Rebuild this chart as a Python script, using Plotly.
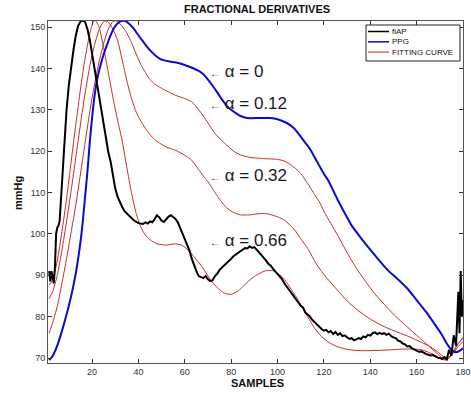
import plotly.graph_objects as go

# ---------------- data ----------------
fiap_x = [1.5, 2, 2.5, 3, 3.5, 4, 4.5, 5, 5.5, 6, 7, 8, 9, 10, 11, 12, 13, 14, 15, 16, 17, 18, 19, 20,
          21, 22, 23, 24, 25, 26, 27, 28, 29, 30, 31, 32, 33, 34, 36, 38, 40, 42, 43, 44, 45, 46, 47, 48,
          49, 50, 51, 52, 53, 54, 55, 56, 57, 58, 59, 60, 61, 62, 63, 64, 65, 66, 67, 68, 69, 70, 71, 72,
          73, 74, 75, 76, 77, 78, 79, 80, 81, 82, 83, 84, 85, 86, 87, 88, 89, 90, 91, 92, 93, 94, 95, 96,
          97, 98, 99, 100, 101, 102, 103, 104, 105, 106, 107, 108, 109, 110, 111, 112, 113, 114, 115, 116,
          117, 118, 119, 120, 121, 122, 123, 124, 125, 126, 127, 128, 129, 130, 131, 132, 133, 134, 135,
          136, 137, 138, 139, 140, 141, 142, 143, 144, 145, 146, 147, 148, 149, 150, 151, 152, 153, 154,
          155, 156, 157, 158, 159, 160, 161, 162, 163, 164, 165, 166, 167, 168, 169, 170, 171, 172, 173,
          174, 175, 176, 177, 178, 178.5, 179, 179.5, 180]
fiap_y = [91, 88.5, 91, 89, 88, 92, 100, 101.5, 102, 103, 113, 122, 130, 136, 140.5, 144.5, 148, 150.3, 151.3, 151.6, 151.2, 149.5, 147, 143.5,
          140, 136.5, 133, 129.5, 126.5, 123, 119.8, 117.5, 114.5, 111, 109, 107.5, 106.5, 105.5, 104.3, 103.3, 102.6, 102.4, 102.8, 102.5, 103.0, 102.8, 103.6, 104.5,
          104.0, 103.2, 102.9, 103.5, 104.2, 104.5, 104.0, 103.6, 102.8, 101.5, 100.2, 99, 97.5, 96, 94.0, 92.3, 91, 89.8, 89.5, 89.3, 89.8, 89.0, 88.6, 88.8,
          89.8, 90.4, 91.3, 91.8, 92.3, 93.0, 93.4, 94.0, 94.6, 95.0, 95.4, 95.7, 96.2, 96.6, 96.5, 97.0, 96.6, 96.8, 96.2, 95.6, 95.0, 94.3, 93.6, 92.8,
          92.4, 91.6, 91.0, 90.3, 89.8, 89.0, 88.0, 87.2, 86.5, 85.7, 85.0, 84.2, 83.4, 82.6, 82.2, 81.0, 80.5, 80.0, 79.2, 78.6,
          78.0, 77.4, 77.0, 76.6, 76.8, 76.2, 76.5, 75.8, 76.3, 75.6, 76.0, 75.3, 75.5, 75.0, 74.6, 74.8, 74.3, 74.5, 74.8,
          74.6, 75.2, 75.0, 75.6, 75.4, 76.0, 76.2, 75.8, 76.1, 75.8, 76.0, 75.6, 75.9, 75.3, 75.0, 74.8, 74.2, 74.0, 73.5,
          73.3, 72.8, 72.9, 72.3, 72.0, 71.8, 71.5, 71.6, 71.2, 71.0, 70.8, 70.6, 70.7, 70.3, 70.1, 70.0, 69.8, 70.2, 69.7,
          72.0, 70.5, 75.5, 73.0, 86.0, 76.0, 91.0, 80.0, 84.0]

ppg_x = [1.5, 3, 5, 7, 9, 11, 13, 15, 16, 17, 18, 19, 20, 21, 22, 24, 26, 28, 30, 32, 34, 36, 38, 40,
         42, 44, 46, 48, 50, 54, 58, 62, 66, 68, 70, 72, 74, 76, 78, 80, 82, 84, 87, 92, 97, 100, 104,
         107, 110, 112, 114, 116, 118, 120, 122, 124, 126, 129, 132, 136, 140, 144, 148, 152, 156, 160,
         164, 168, 171, 173, 175, 177, 179, 180]
ppg_y = [69.5, 70.5, 73, 76.5, 80.5, 85, 90.5, 98, 103, 109, 115, 122, 128, 133, 136.8, 141.5, 145, 148, 150.2, 151.3, 151.5, 150.8, 149.6, 148,
         146.5, 145, 143.8, 142.8, 142.1, 141.6, 141.2, 140.4, 139.4, 138.6, 137.3, 135.8, 134.2, 132.5, 131, 130, 129.2, 128.5, 128, 128, 128, 127.7, 126.8,
         125.6, 123.5, 122, 120.5, 118.5, 116.5, 114.5, 112.8, 110.5, 108.2, 105, 102, 99, 96.2, 93.5, 91, 89, 86.8, 84,
         81.2, 78, 75.5, 73.5, 72, 71.4, 71.9, 72.4]

fit012_x = [1.5, 3, 5, 7, 9, 11, 13, 15, 17, 19, 21, 23, 25, 27, 29, 30, 31, 33, 35, 37, 39, 41, 43, 45,
            47, 49, 52, 56, 60, 63, 66, 68, 70, 73, 76, 78, 81, 84, 88, 94, 100, 103, 106, 108, 110, 113,
            116, 118, 120, 123, 126, 130, 134, 138, 142, 146, 150, 154, 158, 162, 166, 169, 171, 172.5,
            174, 176, 178, 180]
fit012_y = [76, 78.5, 82.5, 88, 94, 100.5, 107, 114.5, 122, 129.5, 136, 141.5, 146, 149.5, 151.3, 151.5, 151.3, 150.2, 148.5, 146.3, 143.5, 141, 139, 137.3,
            136.2, 135.5, 134.6, 133.5, 132.7, 131.9, 130, 128.5, 126.8, 124.3, 122.5, 121.5, 120, 119.1, 118.5, 118.2, 118, 117.6, 116.6, 115.7, 114.6, 112.2,
            109.5, 107.8, 105.5, 102.5, 99.6, 95.5, 91.7, 88.5, 85.5, 83, 80.6, 78.5, 76.5, 74.5, 72.5, 71, 70, 69.5,
            70, 71.5, 73.5, 75]

fit032_x = [1.5, 3, 5, 7, 9, 11, 13, 15, 17, 19, 21, 23, 25, 26, 27, 29, 31, 33, 35, 37, 39, 41, 43, 45,
            47, 49, 52, 56, 60, 63, 66, 68, 70.5, 73, 75.5, 78, 81, 84, 88, 92, 95, 98, 101, 103, 106, 108,
            110, 113, 117, 121, 126, 130, 134.5, 140, 146, 152, 157, 162, 166, 169, 172, 174, 176, 178, 180]
fit032_y = [84.4, 86, 90, 96, 103, 110.5, 118.5, 126.5, 134, 140.5, 145.5, 149.3, 151.3, 151.5, 151.2, 149.5, 146.8, 142, 137, 132.8, 129.5, 127.3, 125.5, 124,
            122.8, 122, 121, 120.2, 119, 117.8, 115.5, 114, 112.2, 110, 108, 106.3, 105.2, 104.6, 104.6, 104.9, 104.9, 104.5, 103.9, 103.3, 101.8, 100.5,
            98.8, 96.5, 92.5, 89.5, 86.3, 83.8, 81.6, 79.4, 77.6, 76.2, 75.1, 73.8, 72.7, 71.5, 70.2, 70.3, 71.3, 72.8, 74]

fit066_x = [1.5, 3, 5, 7, 9, 11, 13, 15, 17, 19, 20.5, 21.5, 23, 25, 27, 29, 31, 33, 35, 37, 39, 41, 43, 45,
            48, 52, 56, 59, 62, 65, 68, 71, 74, 77, 80, 83, 86, 89, 92, 95, 98, 101, 103, 106, 108, 110,
            113, 116, 119, 122, 126, 130, 135, 140, 146, 152, 158, 162, 166, 169, 171.5, 173.5, 175.5, 177.5, 180]
fit066_y = [87.6, 89, 93.5, 100.5, 108.5, 117.5, 126.5, 135, 142.5, 148.3, 151.2, 151.5, 150, 145, 139, 133, 127.5, 122.5, 116, 110, 105, 101.7, 99.7, 98.6,
            97.6, 97.3, 97.6, 97.2, 95.8, 93.8, 91.6, 89, 87, 85.7, 85.4, 86.2, 87.8, 89.3, 90.4, 91.1, 91.1, 90.1, 89, 86.5, 84.8, 83,
            80, 77.2, 75.2, 73.8, 72.7, 72.1, 71.8, 71.8, 71.9, 72.1, 72.2, 72, 71.2, 70.3, 69.6, 69.8, 71.2, 73.2, 74.8]

x_ticks = [20, 40, 60, 80, 100, 120, 140, 160, 180]
y_ticks = [70, 80, 90, 100, 110, 120, 130, 140, 150]

alpha_labels = ["0", "0.12", "0.32", "0.66"]
alpha_label_x = [70.2, 70.2, 70.2, 70.2]
alpha_label_y = [139.3, 131.5, 114.2, 98.5]

legend_names = ["fiAP", "PPG", "FITTING CURVE"]
legend_colors = ["#000000", "#0a0ad0", "#d46a6a"]

RED = "#cc2a2a"
BLUE = "#0a0ad0"
FONT = "Liberation Sans, Arial, sans-serif"

fig = go.Figure()
fig.add_trace(go.Scatter(x=fit066_x, y=fit066_y, mode="lines", line=dict(color=RED, width=1, shape="spline", smoothing=0.6), name="FITTING CURVE"))
fig.add_trace(go.Scatter(x=fit032_x, y=fit032_y, mode="lines", line=dict(color=RED, width=1, shape="spline", smoothing=0.6), name="FITTING CURVE"))
fig.add_trace(go.Scatter(x=fit012_x, y=fit012_y, mode="lines", line=dict(color=RED, width=1, shape="spline", smoothing=0.6), name="FITTING CURVE"))
fig.add_trace(go.Scatter(x=ppg_x, y=ppg_y, mode="lines", line=dict(color=BLUE, width=2, shape="spline", smoothing=0.6), name="PPG"))
fig.add_trace(go.Scatter(x=fiap_x, y=fiap_y, mode="lines", line=dict(color="#000000", width=2), name="fiAP"))

L_M, R_M, T_M, B_M = 48, 8, 21, 34
plot_w = 471.0 - L_M - R_M
plot_h = 397.0 - T_M - B_M
def px_x(p):
    return (p - L_M) / plot_w
def px_y(p):
    return (397.0 - B_M - p) / plot_h

ann = []
for lab, lx, ly in zip(alpha_labels, alpha_label_x, alpha_label_y):
    ann.append(dict(x=lx, y=ly, xref="x", yref="y", xanchor="left", yanchor="middle", showarrow=False,
                    text="<span style='font-size:10px'>\u2190</span> \u03b1 = " + lab,
                    font=dict(family=FONT, size=17, color="#1a1a1a")))

# titles
ann.append(dict(x=px_x(257), y=px_y(9), xref="paper", yref="paper", xanchor="center", yanchor="middle", showarrow=False,
                text="<b>FRACTIONAL DERIVATIVES</b>", font=dict(family=FONT, size=11, color="#111")))
ann.append(dict(x=px_x(257), y=px_y(383), xref="paper", yref="paper", xanchor="center", yanchor="middle", showarrow=False,
                text="<b>SAMPLES</b>", font=dict(family=FONT, size=11, color="#111")))
ann.append(dict(x=px_x(18), y=px_y(193), xref="paper", yref="paper", xanchor="center", yanchor="middle", showarrow=False,
                textangle=-90, text="<b>mmHg</b>", font=dict(family=FONT, size=11, color="#111")))

# legend box drawn in paper coordinates
shapes = []
shapes.append(dict(type="rect", xref="paper", yref="paper", x0=px_x(366), x1=px_x(460), y0=px_y(61), y1=px_y(25),
                   line=dict(color="#222", width=1), fillcolor="white", layer="above"))
for i, (nm, col) in enumerate(zip(legend_names, legend_colors)):
    yy = 31.5 + i * 10.3
    shapes.append(dict(type="line", xref="paper", yref="paper", x0=px_x(368), x1=px_x(389), y0=px_y(yy), y1=px_y(yy),
                       line=dict(color=col, width=1.5), layer="above"))
    ann.append(dict(x=px_x(390), y=px_y(yy), xref="paper", yref="paper", xanchor="left", yanchor="middle", showarrow=False,
                    text=nm, font=dict(family=FONT, size=8, color="#111")))

fig.update_layout(
    width=471, height=397,
    margin=dict(l=L_M, r=R_M, t=T_M, b=B_M, autoexpand=False),
    paper_bgcolor="white", plot_bgcolor="white",
    showlegend=False,
    annotations=ann,
    shapes=shapes,
)

fig.update_xaxes(range=[1, 180], tickvals=x_ticks, ticks="inside", ticklen=4, tickcolor="#333",
                 showline=True, linecolor="#555", linewidth=1, mirror="ticks", showgrid=False, zeroline=False,
                 ticklabeloverflow="allow", automargin=False,
                 tickfont=dict(family=FONT, size=9, color="#333"))
fig.update_yaxes(range=[68.8, 151.45], tickvals=y_ticks, ticks="inside", ticklen=4, tickcolor="#333",
                 showline=True, linecolor="#555", linewidth=1, mirror="ticks", showgrid=False, zeroline=False,
                 ticklabeloverflow="allow", automargin=False,
                 tickfont=dict(family=FONT, size=9, color="#333"))

fig.write_html("out.html")
